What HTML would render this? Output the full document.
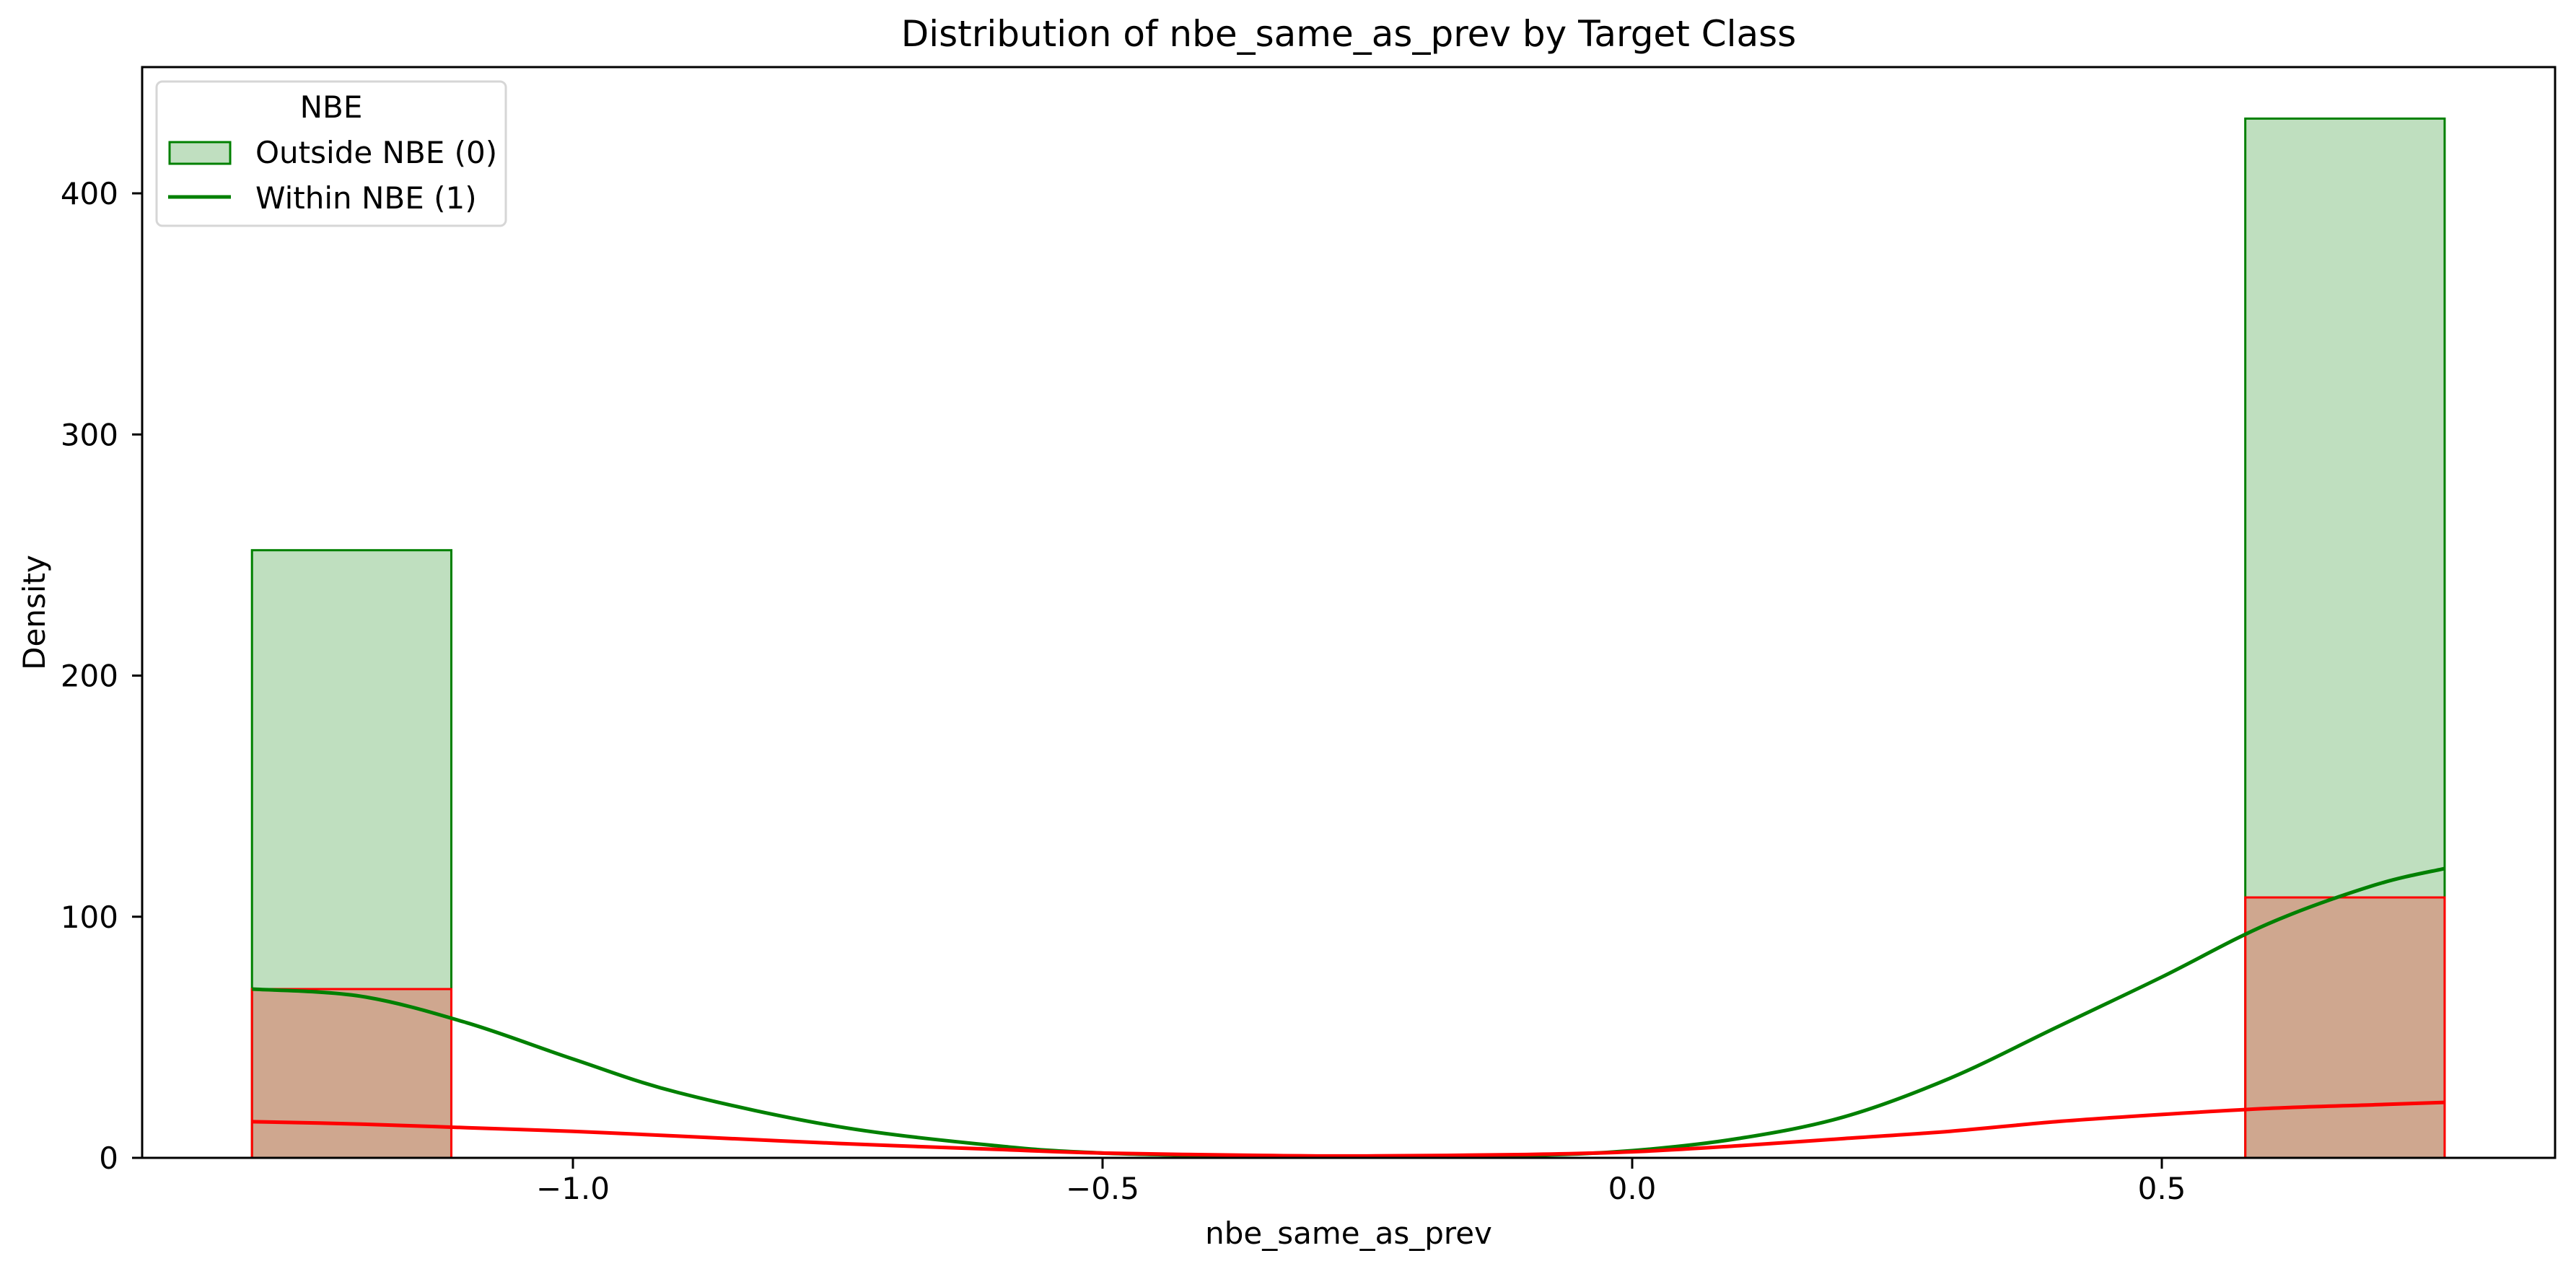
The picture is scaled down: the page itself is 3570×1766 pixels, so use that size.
<!DOCTYPE html>
<html><head><meta charset="utf-8"><style>
html,body{margin:0;padding:0;background:#fff;}
svg{display:block;font-family:"DejaVu Sans","Liberation Sans",sans-serif;}
</style></head><body>
<svg id="chart" width="3570" height="1766" viewBox="0 0 3570 1766">
<text x="1869" y="64" font-size="50" text-anchor="middle">Distribution of nbe_same_as_prev by Target Class</text>
<g id="plot"></g>
<rect x="197" y="93" width="3344" height="1512" fill="none" stroke="#000" stroke-width="3"/>
<g id="xt"></g>
<g id="yt"></g>
<text x="1869" y="1724" font-size="42" text-anchor="middle">nbe_same_as_prev</text>
<text x="62" y="849" font-size="42" text-anchor="middle" transform="rotate(-90 62 849)">Density</text>
<g>
<rect x="217" y="113" width="484" height="200" rx="8" fill="#fff" fill-opacity="0.8" stroke="#d6d6d6" stroke-width="3"/>
<text x="459" y="163" font-size="42" text-anchor="middle">NBE</text>
<rect x="235" y="197" width="84" height="30" fill="#c0dfc0" stroke="#008000" stroke-width="3"/>
<text x="354" y="226" font-size="42">Outside NBE (0)</text>
<line x1="233" y1="273" x2="320" y2="273" stroke="#008000" stroke-width="5"/>
<text x="354" y="289" font-size="42">Within NBE (1)</text>
</g>
</svg>
<script>
const binEdges = [-1.303,-1.1148,-0.9266,-0.7385,-0.5503,-0.3621,-0.1739,0.0143,0.2025,0.3906,0.5788,0.767];
const greenCounts = [252,0,0,0,0,0,0,0,0,0,431];
const redCounts = [70,0,0,0,0,0,0,0,0,0,108];
const kdeX = [-1.303,-1.2,-1.1,-1.0,-0.9,-0.75,-0.6,-0.5,-0.35,-0.25,-0.1,0,0.1,0.2,0.3,0.4,0.5,0.6,0.7,0.767];
const greenKde = [70,67,56,41,27,13,5,2,0.6,0.4,1,3,8,17,33,54,75,97,113,120];
const redKde = [15,14,12.5,11,9,6,3.5,2,1,0.8,1.4,2.5,5,8,11,15,18,20.5,22,23];
const xTicks = [-1.0,-0.5,0.0,0.5];
const xTickLabels = ["\u22121.0","\u22120.5","0.0","0.5"];
const yTicks = [0,100,200,300,400];
const yTickLabels = ["0","100","200","300","400"];
const NS="http://www.w3.org/2000/svg";
function X(v){return 2262+1468*v;}
function Y(v){return 1605-3.3425*v;}
function mk(tag,attrs,parent){const e=document.createElementNS(NS,tag);for(const k in attrs)e.setAttribute(k,attrs[k]);parent.appendChild(e);return e;}
const plot=document.getElementById('plot');
function bars(counts,fill,stroke,name){
  for(let i=0;i<counts.length;i++){
    const x0=X(binEdges[i]),x1=X(binEdges[i+1]),y=Y(counts[i]);
    const r=mk('rect',{x:x0,y:y,width:x1-x0,height:Math.max(Y(0)-y,0.01),fill:fill,stroke:stroke,'stroke-width':3},plot);
    
    
  }
}
bars(greenCounts,'rgba(0,128,0,0.25)','#008000','outside');
bars(redCounts,'rgba(255,0,0,0.25)','#ff0000','within');
function curve(xs,ys,color,name){
  const p=xs.map((x,i)=>[X(x),Y(ys[i])]);
  let d='M'+p[0][0]+','+p[0][1];
  for(let i=0;i<p.length-1;i++){
    const p0=p[i-1]||p[i],p1=p[i],p2=p[i+1],p3=p[i+2]||p2;
    d+=' C'+(p1[0]+(p2[0]-p0[0])/6)+','+(p1[1]+(p2[1]-p0[1])/6)+' '+(p2[0]-(p3[0]-p1[0])/6)+','+(p2[1]-(p3[1]-p1[1])/6)+' '+p2[0]+','+p2[1];
  }
  const e=mk('path',{d:d,fill:'none',stroke:color,'stroke-width':5},plot);
  
  
}
curve(kdeX,greenKde,'#008000','kde-outside');
curve(kdeX,redKde,'#ff0000','kde-within');
const xt=document.getElementById('xt');
xTicks.forEach((v,i)=>{
  const l=mk('line',{x1:X(v),x2:X(v),y1:1605,y2:1620,stroke:'#000','stroke-width':3},xt);
  
  
  const t=mk('text',{x:X(v),y:1662,'font-size':42,'text-anchor':'middle'},xt);
  t.textContent=xTickLabels[i];
  
  
});
const yt=document.getElementById('yt');
yTicks.forEach((v,i)=>{
  const l=mk('line',{x1:183,x2:197,y1:Y(v),y2:Y(v),stroke:'#000','stroke-width':3},yt);
  
  
  const t=mk('text',{x:164,y:Y(v)+15,'font-size':42,'text-anchor':'end'},yt);
  t.textContent=yTickLabels[i];
  
  
});
</script>
</body></html>
